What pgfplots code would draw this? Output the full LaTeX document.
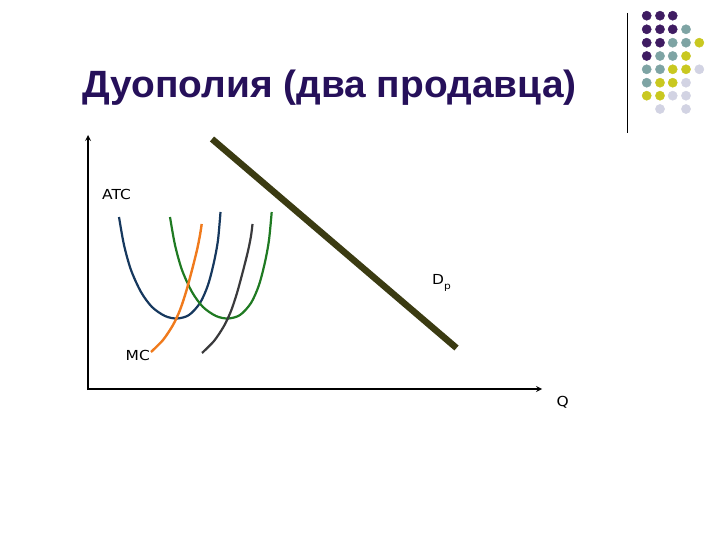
\documentclass[border=0pt]{standalone}
\usepackage{pgfplots}
\pgfplotsset{compat=1.18}
\usepackage{graphicx}
\usepackage{fontspec}
\setmainfont{Liberation Sans}
\newfontfamily\labelfont{DejaVu Sans}
\definecolor{dpurple}{HTML}{3F1C62}
\definecolor{dteal}{HTML}{7EA4A4}
\definecolor{dyellow}{HTML}{C9C820}
\definecolor{dlav}{HTML}{D2D3E3}
\definecolor{titlec}{HTML}{26105A}
\definecolor{atcblue}{HTML}{16385E}
\definecolor{atcgreen}{HTML}{1F7A22}
\definecolor{mcorange}{HTML}{F07A1C}
\definecolor{mcgray}{HTML}{3A3A3C}
\definecolor{demand}{HTML}{3B3B12}
\newcommand{\lbl}[1]{\scalebox{1.12}[1]{\labelfont\fontsize{13.8}{15}\selectfont #1}}
\begin{document}
\begin{tikzpicture}
\begin{axis}[
  width=720pt, height=540pt, scale only axis,
  xmin=0, xmax=720, ymin=0, ymax=540, y dir=reverse,
  hide axis, clip=false]
\path[fill=white] (axis cs:0,0) rectangle (axis cs:720,540);
% decorative dot grid
\addplot[only marks, mark=*, mark size=4.6pt, color=dpurple] coordinates {
 (646.7,15.7)(660,15.7)(672.7,15.7)
 (646.7,29.3)(660,29.3)(672.7,29.3)
 (646.7,42.7)(660,42.7)
 (646.7,56)};
\addplot[only marks, mark=*, mark size=4.6pt, color=dteal] coordinates {
 (686,29.3)
 (672.7,42.7)(686,42.7)
 (660,56)(672.7,56)
 (646.7,69.3)(660,69.3)
 (646.7,82.7)};
\addplot[only marks, mark=*, mark size=4.6pt, color=dyellow] coordinates {
 (699.3,42.7)
 (686,56)
 (672.7,69.3)(686,69.3)
 (660,82.7)(672.7,82.7)
 (646.7,95.7)(660,95.7)};
\addplot[only marks, mark=*, mark size=4.6pt, color=dlav] coordinates {
 (699.3,69.3)
 (686,82.7)
 (672.7,95.7)(686,95.7)
 (660,109)(686,109)};
\draw[line width=1.3pt] (axis cs:627.7,13) -- (axis cs:627.7,133);
% title
\node[anchor=base west, inner sep=0pt, text=titlec] at (axis cs:82.5,97.3) {\scalebox{1.023}[1]{\fontsize{38}{42}\selectfont\bfseries Дуополия (два продавца)}};
% axes
\draw[line width=1.6pt, -stealth] (axis cs:88,390) -- (axis cs:88,135);
\draw[line width=1.6pt, -stealth] (axis cs:87.2,389) -- (axis cs:542,389);
% ATC curves
\addplot[atcblue, line width=2.2pt, smooth] coordinates {
 (119,217)(124,245)(131,270)(141,292)(152,307)(165,316)(177,318.5)(189,315)(200,303)(208,285)(214,262)(218,240)(220.5,212)};
\addplot[atcgreen, line width=2.2pt, smooth] coordinates {
 (170,217)(175,245)(182,270)(192,292)(203,307)(216,316)(228,318.5)(240,315)(251,303)(259,285)(265,262)(269,240)(271.7,212)};
% MC curves
\addplot[mcorange, line width=2.4pt, smooth] coordinates {
 (151,352)(163,340)(173,325)(180,310)(186,292)(192,270)(197,250)(200,235)(201.7,224)};
\addplot[mcgray, line width=2.2pt, smooth] coordinates {
 (202,353)(214,341)(224,326)(231,311)(237,293)(243,271)(248,251)(251,236)(252.5,224)};
% demand
\addplot[demand, line width=6.5pt] coordinates {(212,139)(456.5,348)};
% labels
\node[anchor=base west, inner sep=0pt] at (axis cs:102,199.3) {\lbl{ATC}};
\node[anchor=base west, inner sep=0pt] at (axis cs:125.5,360.7) {\lbl{MC}};
\node[anchor=base west, inner sep=0pt] at (axis cs:432,284.3) {\lbl{D\raisebox{-5pt}{\fontsize{9.5}{10}\selectfont p}}};
\node[anchor=base west, inner sep=0pt] at (axis cs:556.5,406.7) {\lbl{Q}};
\end{axis}
\end{tikzpicture}
\end{document}
